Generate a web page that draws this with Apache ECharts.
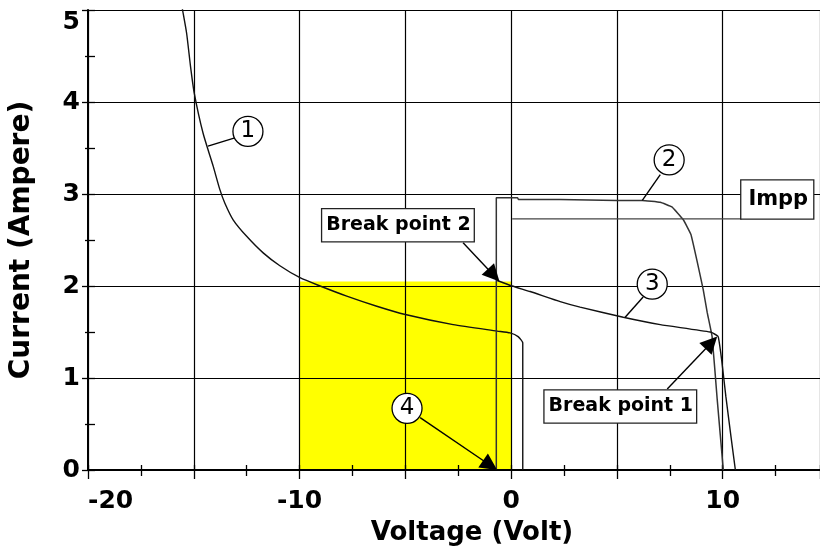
<!DOCTYPE html>
<html>
<head>
<meta charset="utf-8">
<script src="https://cdn.jsdelivr.net/npm/echarts@6.0.0/dist/echarts.min.js"></script>
<style>
  html, body { margin: 0; padding: 0; background: #fff; }
  #chart { width: 820px; height: 551px; }
</style>
</head>
<body>
<div id="chart"></div>
<script>
// Solar module I-V characteristics (voltage in volt, current in ampere)

// Curve 1: module with a shaded cell, bypass behaviour at negative voltage
const curve1V = [-15.62, -15.53, -15.34, -15.15, -14.98, -14.56, -14.08, -13.77, -13.53, -13.14, -12.5, -11.72, -10.93, -9.98, -9.03, -7.77, -6.35, -5.0, -2.74, -0.66, -0.05, 0.33, 0.55, 0.55];
const curve1I = [5.12, 5.0, 4.75, 4.38, 4.10, 3.66, 3.30, 3.05, 2.90, 2.72, 2.54, 2.36, 2.22, 2.09, 2.0, 1.89, 1.78, 1.69, 1.58, 1.51, 1.49, 1.45, 1.38, 0];

// Curve 2: unshaded module
const curve2V = [-0.7, -0.7, 0.3, 0.35, 2.3, 5.0, 6.2, 7.05, 7.6, 8.14, 8.5, 8.8, 9.08, 9.27, 9.5, 9.74, 10.03];
const curve2I = [0, 2.96, 2.96, 2.94, 2.94, 2.93, 2.93, 2.91, 2.86, 2.72, 2.56, 2.26, 1.96, 1.71, 1.45, 0.77, 0];

// Curve 3: resulting characteristic between the two break points
const curve3V = [-0.66, 0.05, 0.9, 2.32, 3.26, 5.3, 7.05, 9.41, 9.74, 9.8, 9.95, 10.15, 10.4, 10.6];
const curve3I = [2.06, 2.0, 1.94, 1.83, 1.77, 1.66, 1.58, 1.50, 1.46, 1.44, 1.2, 0.8, 0.35, 0];

// Dissipated power rectangle (voltage range, current range)
const powerV = [-10, 0];
const powerI = [0, 2.05];

// Maximum power point current level
const imppV = [0.05, 10.9];
const imppI = [2.73, 2.73];

// Axis ticks
const xTicks = { min: -20, max: 14.6, step: 5, labelStep: 10 };
const yTicks = { min: 0, max: 5, step: 1 };

// Numbered markers: [label, voltage, current]
const markers = [['1', -12.44, 3.68], ['2', 7.47, 3.37], ['3', 6.67, 2.02], ['4', -4.92, 0.67]];
// Boxed captions: [text, voltage, current, font size]
const captions = [['Break point 2', -5.35, 2.66, 19], ['Break point 1', 5.16, 0.69, 19], ['Impp', 12.58, 2.94, 21]];
// Plain leader lines from markers to curves
const leaders = [
  [[-13.06, 3.61], [-14.33, 3.52]],
  [[7.05, 3.21], [6.2, 2.93]],
  [[6.24, 1.88], [5.39, 1.66]]
];
// Arrows: from caption/marker to target point
const arrows = [
  [[-4.3, 0.57], [-0.66, 0.0]],
  [[-2.27, 2.47], [-0.55, 2.05]],
  [[7.38, 0.88], [9.74, 1.45]]
];

const FONT = 'DejaVu Sans';
const zip = (a, b) => a.map((v, i) => [v, b[i]]);

const chart = echarts.init(document.getElementById('chart'), null, { renderer: 'canvas' });

const black = '#000';
const tickStyle = { color: black, width: 1.3 };

const curveSeries = (name, data, color, width, smooth) => ({
  name, type: 'line', data, symbol: 'none', showSymbol: false, z: 4,
  smooth, lineStyle: { color, width }, silent: true, clip: true
});

const option = {
  animation: false,
  backgroundColor: '#fff',
  grid: { left: 88, right: 0, top: 10, bottom: 80 },
  xAxis: [{
    type: 'value', min: xTicks.min, max: xTicks.max, interval: xTicks.step, z: 3,
    name: 'Voltage (Volt)', nameLocation: 'middle', nameGap: 50,
    nameTextStyle: {
      fontFamily: FONT, fontWeight: 'bold', fontSize: 26, color: black,
      padding: [0, 0, 0, 36]
    },
    axisLine: { show: true, onZero: false, lineStyle: { color: black, width: 2 } },
    axisTick: { show: true, inside: false, length: 9, lineStyle: tickStyle },
    minorTick: { show: true, splitNumber: 2, length: 6, lineStyle: tickStyle },
    splitLine: { show: true, lineStyle: { color: black, width: 1.2 } },
    axisLabel: {
      fontFamily: FONT, fontWeight: 'bold', fontSize: 25, color: black, margin: 19,
      alignMinLabel: 'left', showMaxLabel: false,
      formatter: v => (v % xTicks.labelStep === 0 ? String(v) : '')
    }
  }, {
    type: 'value', min: xTicks.min, max: xTicks.max, interval: xTicks.step / 2, z: 3,
    position: 'bottom', axisLine: { show: false, onZero: false },
    axisTick: { show: true, inside: true, length: 5, lineStyle: tickStyle },
    axisLabel: { show: false }, splitLine: { show: false }
  }],
  yAxis: [{
    type: 'value', min: yTicks.min, max: yTicks.max, interval: yTicks.step, z: 3,
    name: 'Current (Ampere)', nameLocation: 'middle', nameGap: 52,
    nameTextStyle: { fontFamily: FONT, fontWeight: 'bold', fontSize: 28, color: black },
    axisLine: { show: true, onZero: false, lineStyle: { color: black, width: 2 } },
    axisTick: { show: true, inside: false, length: 6, lineStyle: tickStyle },
    minorTick: { show: true, splitNumber: 2, length: 3, lineStyle: tickStyle },
    splitLine: { show: true, lineStyle: { color: black, width: 1.2 } },
    axisLabel: {
      fontFamily: FONT, fontWeight: 'bold', fontSize: 25, color: black, margin: 8,
      verticalAlignMaxLabel: 'top'
    }
  }, {
    type: 'value', min: yTicks.min, max: yTicks.max, interval: yTicks.step / 2, z: 3,
    position: 'left', axisLine: { show: false, onZero: false },
    axisTick: { show: true, inside: true, length: 7, lineStyle: tickStyle },
    axisLabel: { show: false }, splitLine: { show: false }
  }],
  series: [
    {
      name: 'power', type: 'line', z: 1, symbol: 'none', silent: true,
      data: zip(powerV, powerI), lineStyle: { opacity: 0 },
      markArea: {
        silent: true, itemStyle: { color: '#ffff00', opacity: 1 },
        data: [[{ coord: [powerV[0], powerI[0]] }, { coord: [powerV[1], powerI[1]] }]]
      }
    },
    curveSeries('curve1', zip(curve1V, curve1I), '#111', 1.4, 0.2),
    curveSeries('curve2', zip(curve2V, curve2I), '#333', 1.5, 0.08),
    curveSeries('curve3', zip(curve3V, curve3I), '#111', 1.4, 0.15),
    {
      name: 'impp', type: 'line', data: zip(imppV, imppI), symbol: 'none', z: 4,
      lineStyle: { color: '#444', width: 1.4 }, silent: true
    },
    {
      name: 'leaders', type: 'lines', coordinateSystem: 'cartesian2d', z: 9, silent: true,
      symbol: 'none', lineStyle: { color: black, width: 1.4, opacity: 1 },
      data: leaders.map(c => ({ coords: c }))
    },
    {
      name: 'arrows', type: 'lines', coordinateSystem: 'cartesian2d', z: 9, silent: true,
      symbol: ['none', 'triangle'], symbolSize: [13, 17],
      lineStyle: { color: black, width: 1.4, opacity: 1 },
      data: arrows.map(c => ({ coords: c }))
    },
    {
      name: 'markers', type: 'scatter', z: 10, silent: true,
      symbol: 'circle', symbolSize: 30,
      itemStyle: { color: '#fff', borderColor: black, borderWidth: 1.3, opacity: 1 },
      label: {
        show: true, position: 'inside', formatter: p => p.name,
        fontFamily: FONT, fontSize: 23, color: black
      },
      data: markers.map(m => ({ name: m[0], value: [m[1], m[2]] }))
    },
    {
      name: 'captions', type: 'scatter', z: 11, silent: true,
      symbol: 'circle', symbolSize: 0, itemStyle: { opacity: 1 },
      label: {
        show: true, position: 'inside', formatter: p => p.name,
        fontFamily: FONT, fontWeight: 'bold', fontSize: 19, color: black,
        backgroundColor: '#fff', borderColor: '#222', borderWidth: 1.3,
        padding: [7, 3, 6, 4]
      },
      data: captions.map(c => ({
        name: c[0], value: [c[1], c[2]],
        label: c[3] !== 19 ? { fontSize: c[3], padding: [9, 5, 8, 7] } : undefined
      }))
    }
  ]
};

chart.setOption(option);

// Pull each arrow tip back by half the head length so the triangle's point lands on the target
const headHalf = 8.5;
const finder = { xAxisIndex: 0, yAxisIndex: 0 };
const arrowData = arrows.map(([from, to]) => {
  const p0 = chart.convertToPixel(finder, from);
  const p1 = chart.convertToPixel(finder, to);
  const dx = p1[0] - p0[0], dy = p1[1] - p0[1];
  const len = Math.hypot(dx, dy);
  const q = [p1[0] - dx / len * headHalf, p1[1] - dy / len * headHalf];
  return { coords: [from, chart.convertFromPixel(finder, q)] };
});
chart.setOption({ series: [{ name: 'arrows', data: arrowData }] });
</script>
</body>
</html>
